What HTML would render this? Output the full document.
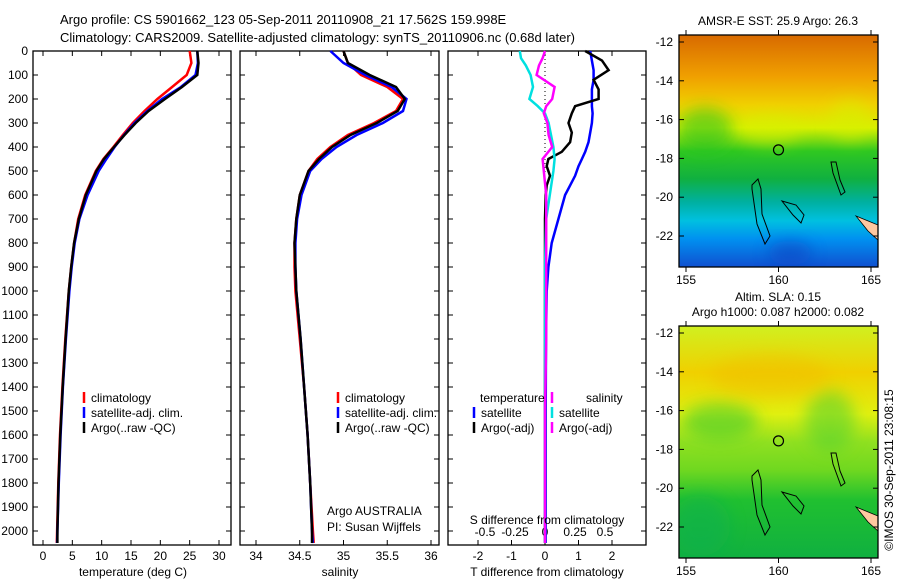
<!DOCTYPE html>
<html><head><meta charset="utf-8"><style>
body{margin:0;background:#fff;}
svg{font-family:"Liberation Sans",sans-serif;font-size:12px;}
</style></head><body>
<svg id="c" width="900" height="580" viewBox="0 0 900 580" xmlns="http://www.w3.org/2000/svg">
<defs>
<linearGradient id="g1" x1="0" y1="0" x2="0" y2="1">
<stop offset="0" stop-color="#d86a00"/><stop offset="0.18" stop-color="#f0a000"/><stop offset="0.3" stop-color="#f0d000"/><stop offset="0.4" stop-color="#d8f000"/><stop offset="0.5" stop-color="#30c820"/><stop offset="0.62" stop-color="#10b040"/><stop offset="0.72" stop-color="#00b0a0"/><stop offset="0.8" stop-color="#00c0e0"/><stop offset="0.88" stop-color="#0090f0"/><stop offset="1" stop-color="#1050d0"/>
</linearGradient>
<linearGradient id="g2" x1="0" y1="0" x2="0" y2="1">
<stop offset="0" stop-color="#d0f020"/><stop offset="0.2" stop-color="#f0d000"/><stop offset="0.38" stop-color="#e0f010"/><stop offset="0.5" stop-color="#90e020"/><stop offset="0.62" stop-color="#70d820"/><stop offset="0.75" stop-color="#20c030"/><stop offset="1" stop-color="#10b040"/>
</linearGradient>
<filter id="bl" x="-50%" y="-50%" width="200%" height="200%"><feGaussianBlur stdDeviation="8"/></filter>
<clipPath id="cp1"><rect x="679" y="35" width="199" height="232"/></clipPath>
<clipPath id="cp2"><rect x="679" y="326" width="199" height="232"/></clipPath>
</defs>
<g id="root"></g>
</svg>
<script>
// ---- data ----
const depths = [0,50,100,150,200,250,300,350,400,450,500,600,700,800,900,1000,1200,1400,1600,1800,2000,2050];
const tempClim = [25,25.3,24.5,22,19.5,17.3,15.3,13.6,12,10.3,9,7.2,6,5.3,4.8,4.4,3.8,3.3,2.9,2.6,2.4,2.35];
const tempSat  = [26.3,26.4,26,23.5,20.3,17.8,15.6,13.8,12.2,10.8,9.5,7.6,6.2,5.4,4.9,4.5,3.9,3.4,3.0,2.7,2.45,2.4];
const tempArgo = [26.3,26.5,26.3,23.7,20.8,18,15.8,13.9,12.1,10.4,9.1,7.3,6.1,5.3,4.8,4.4,3.85,3.35,2.95,2.65,2.45,2.45];
const salClim = [35.0,35.05,35.2,35.5,35.68,35.6,35.35,35.05,34.85,34.7,34.6,34.5,34.46,34.44,34.44,34.45,34.5,34.55,34.59,34.62,34.65,34.66];
const salSat  = [34.85,35.0,35.25,35.55,35.72,35.68,35.45,35.15,34.92,34.75,34.62,34.52,34.47,34.45,34.45,34.46,34.51,34.55,34.59,34.62,34.64,34.65];
const salArgo = [35.0,35.05,35.3,35.6,35.7,35.62,35.38,35.08,34.87,34.72,34.6,34.5,34.46,34.44,34.45,34.46,34.51,34.55,34.59,34.62,34.64,34.64];
const tdDepths = [0,40,80,120,160,200,230,260,300,340,380,420,450,480,520,560,600,700,800,900,1000,1200,1500,2050];
const tdSat  = [1.35,1.4,1.45,1.45,1.4,1.4,1.4,1.42,1.4,1.35,1.3,1.2,1.1,1.0,0.9,0.75,0.6,0.4,0.2,0.1,0.05,0.03,0.02,0.02];
const tdArgo = [1.2,1.7,1.9,1.45,1.6,1.6,0.9,0.8,0.7,0.8,0.75,0.5,0.1,0.05,0.15,0.05,0.02,0,0,0,0,0,0,0];
const sdDepths = [0,30,60,100,150,200,230,260,300,350,400,450,500,600,700,900,1200,1500,2050];
const sdSat  = [-0.21,-0.2,-0.16,-0.12,-0.1,-0.13,-0.06,0.0,0.03,0.05,0.07,0.08,0.07,0.04,0.01,0,0,0,0];
const sdArgo = [0.0,-0.02,-0.05,-0.07,0.08,0.06,0.01,-0.01,0.02,0.03,0.06,-0.02,-0.01,0.01,0.01,0.01,0.01,0.0,0.0];
const depthTicks = [0,100,200,300,400,500,600,700,800,900,1000,1100,1200,1300,1400,1500,1600,1700,1800,1900,2000];
const tempTicks = [0,5,10,15,20,25,30];
const salTicks = [34,34.5,35,35.5,36];
const salTickLabels = ["34","34.5","35","35.5","36"];
const tdTicks = [-2,-1,0,1,2];
const sdTicks = [-0.5,-0.25,0,0.25,0.5];
const sdTickLabels = ["-0.5","-0.25","0","0.25","0.5"];
const latTicks = [12,14,16,18,20,22];
const lonTicks = [155,160,165];

const NS="http://www.w3.org/2000/svg";
const root=document.getElementById('root');
function mk(tag,attrs,parent){const e=document.createElementNS(NS,tag);for(const k in attrs)e.setAttribute(k,attrs[k]);(parent||root).appendChild(e);return e;}
function txt(s,x,y,anchor,parent,size){const t=mk('text',{x:x,y:y,'text-anchor':anchor||'start'},parent);if(size)t.setAttribute('font-size',size);t.textContent=s;return t;}

const yTop=51, yBot=545;
const yD = d => 51 + d*0.24;
const xT = v => 43 + v*(176/30);
const xS = v => 256 + (v-34)*87.5;
const xTD = v => 545 + v*33.5;
const xSD = v => 545 + v*120;

function frame(x0,x1,name){
  const r=mk('rect',{x:x0,y:yTop,width:x1-x0,height:yBot-yTop,fill:'none',stroke:'#000','stroke-width':1.3});
  
  
}
frame(33,231,'temperature-panel');
frame(240,439,'salinity-panel');
frame(448,646,'difference-panel');

const yax=mk('g',{});


depthTicks.forEach(d=>{
  const y=yD(d);
  txt(String(d),28,y+4,'end',yax);
  [[33,1],[231,-1],[240,1],[439,-1],[448,1],[646,-1]].forEach(([x,s])=>mk('line',{x1:x,x2:x+5*s,y1:y,y2:y,stroke:'#000'},yax));
});

function xticks(vals,labels,fx,yLab,name,tickMarks){
  const g=mk('g',{});
  
  
  vals.forEach((v,i)=>{
    const x=fx(v);
    if(tickMarks!==false){mk('line',{x1:x,x2:x,y1:yBot,y2:yBot-5,stroke:'#000'},g);mk('line',{x1:x,x2:x,y1:yTop,y2:yTop+5,stroke:'#000'},g);}
    txt(labels?labels[i]:String(v),x,yLab,'middle',g);
  });
  return g;
}
xticks(tempTicks,null,xT,560,'temperature-axis');
xticks(salTicks,salTickLabels,xS,560,'salinity-axis');
xticks(tdTicks,null,xTD,560,'t-difference-axis');
xticks(sdTicks,sdTickLabels,xSD,536,'s-difference-axis',false);

function line(xs,ds,fx,color,name,w){
  const p=xs.map((v,i)=>fx(v).toFixed(1)+','+yD(ds[i]).toFixed(1)).join(' ');
  const e=mk('polyline',{points:p,fill:'none',stroke:color,'stroke-width':w||2.5});
  
  
}
line(tempClim,depths,xT,'#ff0000','temp-climatology-line');
line(tempSat,depths,xT,'#0000ff','temp-satellite-line');
line(tempArgo,depths,xT,'#000000','temp-argo-line');
line(salClim,depths,xS,'#ff0000','sal-climatology-line');
line(salSat,depths,xS,'#0000ff','sal-satellite-line');
line(salArgo,depths,xS,'#000000','sal-argo-line');
mk('line',{x1:545,x2:545,y1:yTop,y2:yBot,stroke:'#000','stroke-dasharray':'1,3'});
line(tdSat,tdDepths,xTD,'#0000ff','tdiff-satellite-line');
line(tdArgo,tdDepths,xTD,'#000000','tdiff-argo-line');
line(sdSat,sdDepths,xSD,'#00e0e0','sdiff-satellite-line');
line(sdArgo,sdDepths,xSD,'#ff00ff','sdiff-argo-line');

txt('temperature (deg C)',133,576,'middle');
txt('salinity',340,576,'middle');
txt('T difference from climatology',547,576,'middle');
txt('S difference from climatology',547,524,'middle');
txt('Argo AUSTRALIA',327,515,'start');
txt('PI: Susan Wijffels',327,531,'start');

txt('Argo profile: CS 5901662_123 05-Sep-2011 20110908_21 17.562S 159.998E',60,24,'start',null,13);
txt('Climatology: CARS2009. Satellite-adjusted climatology: synTS_20110906.nc (0.68d later)',60,42,'start',null,13);

function legend(x,y,items,name){
  const g=mk('g',{});
  
  
  items.forEach((it,i)=>{
    const yy=y+i*15;
    mk('line',{x1:x,x2:x,y1:yy-10,y2:yy+1,stroke:it[1],'stroke-width':2.5},g);
    txt(it[0],x+7,yy,'start',g);
  });
}
const L=[['climatology','#ff0000'],['satellite-adj. clim.','#0000ff'],['Argo(..raw -QC)','#000000']];
legend(84,402,L,'temperature-legend');
legend(338,402,L,'salinity-legend');
txt('temperature',480,402,'start');
txt('salinity',586,402,'start');
legend(474,417,[['satellite','#0000ff'],['Argo(-adj)','#000000']],'tdiff-legend');
legend(552,417,[['satellite','#00e0e0'],['Argo(-adj)','#ff00ff']],'sdiff-legend');
mk('line',{x1:552,x2:552,y1:392,y2:403,stroke:'#ff00ff','stroke-width':2.5});

function map(y0,fill,name,blobs,clip){
  const g=mk('g',{});
  
  
  mk('rect',{x:679,y:y0,width:199,height:232,fill:fill},g);
  const bg=mk('g',{'clip-path':clip},g);
  blobs.forEach(b=>mk('ellipse',{cx:b[0],cy:y0+b[1],rx:b[2],ry:b[3],fill:b[4],opacity:0.55,filter:'url(#bl)'},bg));
  const latY=v=>y0+7+(v-12)*19.4;
  const lonX=v=>686+(v-155)*18.5;
  mk('polygon',{points:`856,${y0+181} 878,${y0+190} 878,${y0+205} 868,${y0+196}`,fill:'#ffc8a0',stroke:'#000','stroke-width':0.8},g);
  mk('path',{d:`M752,${y0+150} l6,-6 l3,10 l1,25 l8,22 l-5,8 l-8,-20 l-5,-35 z`,fill:'none',stroke:'#000','stroke-width':1},g);
  mk('path',{d:`M782,${y0+166} l14,4 l8,10 l-3,8 l-8,-8 z`,fill:'none',stroke:'#000','stroke-width':1},g);
  mk('path',{d:`M831,${y0+127} l5,0 l4,18 l5,12 l-4,3 l-8,-22 z`,fill:'none',stroke:'#000','stroke-width':1},g);
  mk('circle',{cx:lonX(160),cy:latY(17.56),r:5,fill:'none',stroke:'#000','stroke-width':1.2},g);
  mk('rect',{x:679,y:y0,width:199,height:232,fill:'none',stroke:'#000','stroke-width':1.3},g);
  latTicks.forEach(v=>{const y=latY(v);txt('-'+v,673,y+4,'end',g);mk('line',{x1:679,x2:684,y1:y,y2:y,stroke:'#000'},g);mk('line',{x1:878,x2:873,y1:y,y2:y,stroke:'#000'},g);});
  lonTicks.forEach(v=>{const x=lonX(v);txt(String(v),x,y0+249,'middle',g);mk('line',{x1:x,x2:x,y1:y0,y2:y0-5,stroke:'#000'},g);mk('line',{x1:x,x2:x,y1:y0+232,y2:y0+237,stroke:'#000'},g);});
}
map(35,'url(#g1)','sst-map',[[705,95,28,22,'#20c020'],[770,95,30,14,'#d8f000'],[850,85,20,20,'#d8f000'],[790,218,22,12,'#1040c0']],'url(#cp1)');
map(326,'url(#g2)','sla-map',[[720,95,38,18,'#30c830'],[830,95,25,30,'#50d030'],[700,200,30,30,'#10b050'],[770,50,60,20,'#f0c000']],'url(#cp2)');
txt('AMSR-E SST: 25.9 Argo: 26.3',778,25,'middle');
txt('Altim. SLA: 0.15',778,301,'middle');
txt('Argo h1000: 0.087 h2000: 0.082',778,316,'middle');
const ts=txt('©IMOS 30-Sep-2011 23:08:15',0,0,'middle');
ts.setAttribute('transform','translate(893,470) rotate(-90)');

</script>
</body></html>
